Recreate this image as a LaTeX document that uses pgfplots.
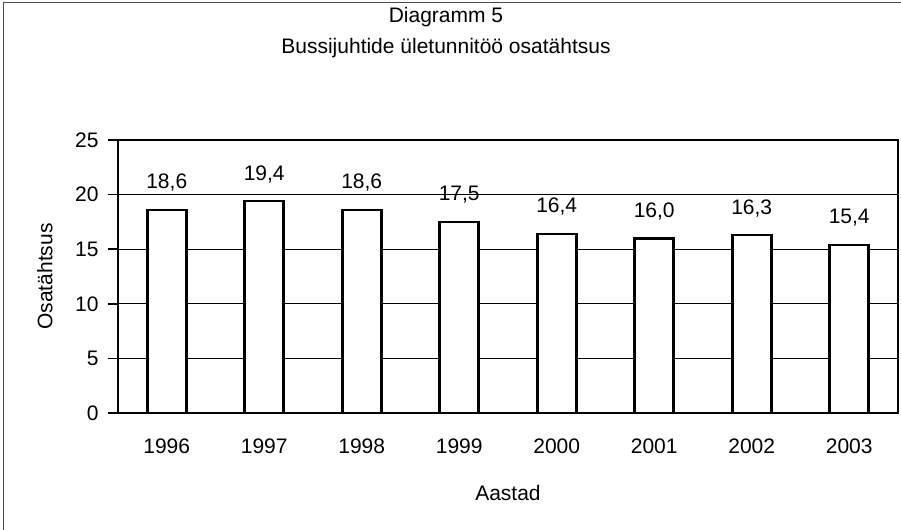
\documentclass[border=0pt]{standalone}
\usepackage{fontspec}
\setmainfont{Liberation Sans}
\usepackage{pgfplots}
\pgfplotsset{compat=1.18}
\begin{document}
\fontsize{10.5}{12.6}\selectfont
\begin{tikzpicture}
\useasboundingbox (0pt,0pt) rectangle (450.5pt,265pt);
\draw[black!70, line width=0.5pt] (1.5pt,0pt) -- (1.5pt,263.5pt) -- (450.5pt,263.5pt);
\node[anchor=center] at (223pt,256.5pt) {Diagramm 5};
\node[anchor=center] at (223pt,241pt) {Bussijuhtide ületunnitöö osatähtsus};
\begin{axis}[
  at={(59pt,58.5pt)}, anchor=south west,
  scale only axis, width=390pt, height=136.5pt,
  ybar, bar width=19.5pt,
  xmin=-0.5, xmax=7.5, ymin=0, ymax=25,
  xtick=data,
  xticklabels={1996,1997,1998,1999,2000,2001,2002,2003},
  extra x ticks={-0.5,0.5,1.5,2.5,3.5,4.5,5.5,6.5,7.5},
  extra x tick labels={},
  extra x tick style={major tick length=3pt, tick align=outside, grid=none},
  ytick={0,5,10,15,20,25},
  ymajorgrids, grid style={black, line width=0.6pt},
  axis line style={black, line width=1pt},
  x tick style={draw=none},
  y tick style={black, line width=0.8pt},
  tick pos=left, tick align=outside, major tick length=5pt,
  xticklabel style={yshift=-4pt},
  yticklabel style={xshift=-1pt},
  /pgf/number format/assume math mode=true,
  xlabel={Aastad},
  xlabel style={at={(axis description cs:0.5,-0.293)}, anchor=center},
  ylabel={Osatähtsus},
  ylabel style={at={(axis description cs:-0.0936,0.5)}, anchor=center, rotate=0},
  nodes near coords,
  nodes near coords style={/pgf/number format/.cd, fixed, fixed zerofill, precision=1, use comma, assume math mode=true, /tikz/.cd, anchor=south, yshift=5pt, black},
]
\addplot[fill=white, draw=black, line width=1.3pt] coordinates {
  (0,18.6) (1,19.4) (2,18.6) (3,17.5) (4,16.4) (5,16.0) (6,16.3) (7,15.4)
};
\end{axis}
\end{tikzpicture}
\end{document}
